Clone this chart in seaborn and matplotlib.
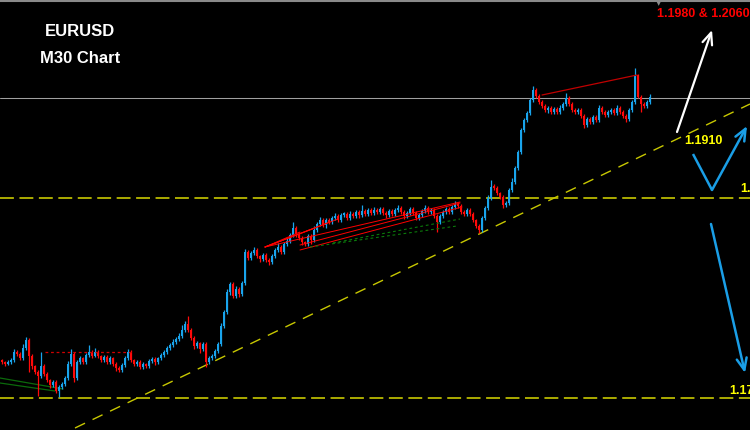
import numpy as np
import pandas as pd
import matplotlib
matplotlib.use("Agg")
import matplotlib.pyplot as plt
import seaborn as sns

# EURUSD M30 candles, prices counted in pips above BASE (open = previous close)
BASE = 1.1700
first_open_pips = 68.5
close_pips = [
    68, 67, 68, 69, 73, 72, 70, 75, 79, 71,
    66, 63, 61, 66, 62, 59, 56.5, 58, 53.5, 55.5,
    57, 60, 67, 72, 60, 68, 70, 68, 71.5, 73,
    71, 73, 71, 69, 70.5, 68, 70, 67, 65, 64,
    66.5, 70, 73, 69, 67, 68, 65.5, 67, 66, 68.5,
    69.5, 68, 70, 71.5, 73, 75, 76.5, 78, 79.5, 81,
    84, 87, 84, 80, 76, 77.5, 74.5, 77, 68, 70,
    71, 73.5, 77, 86, 93, 103, 107, 101, 104.5, 102,
    107.5, 123, 120, 122.5, 124, 121, 119.5, 121.5, 119, 118,
    121, 124, 125.5, 123, 127, 128.5, 131.5, 135, 132, 130,
    128, 127, 131, 129, 134, 137, 139, 136.5, 139, 138,
    140, 141, 139, 141.5, 142, 140, 142, 141, 143, 141.5,
    143.5, 142, 144, 142.5, 144, 143, 144.5, 142.5, 141.5, 143.5,
    142, 144, 145, 143, 141, 142.5, 144.5, 142.5, 140, 141.5,
    143.5, 145, 143, 144, 141, 138, 141, 143, 144.5, 143,
    145.5, 147, 146, 143, 142, 144, 142, 139, 136, 134,
    140, 145, 150, 155.5, 155, 152.5, 150.5, 146.5, 147.5, 154,
    158, 165, 173, 184, 189, 192.5, 199, 204, 201, 198,
    196, 194, 195, 193, 194.5, 193, 195, 197, 200, 197,
    194, 193, 194, 191, 186.5, 189.5, 188, 190.5, 189, 195,
    193, 191.5, 193, 194, 192.5, 195, 193, 191, 189.5, 194,
    198, 211.5, 200.5, 197, 196, 198, 200.5,
]
wick_up = [
    1, 0.5, 1, 1, 1.5, 1, 1, 2, 1.5, 1,
    1, 0.5, 1, 7, 1, 1, 0.5, 1, 1, 1,
    1, 1, 1.5, 2.5, 1, 1, 1, 0.5, 1, 3.5,
    1, 2, 1, 0.5, 1, 1, 1, 0.5, 1, 1,
    1, 1, 1.5, 1, 0.5, 1, 1, 1, 0.5, 1,
    1, 1, 0.5, 1, 1, 1, 1, 1.5, 1, 1.5,
    2.5, 1.5, 4, 1, 1, 1, 0.5, 1, 1, 1,
    1, 1, 1, 1.5, 1, 1.5, 1, 1, 1.5, 1,
    1, 1.5, 1, 1, 1.5, 1, 0.5, 1, 1, 1,
    1, 1, 2, 1, 1, 1.5, 1, 3, 1, 1,
    1, 0.5, 1, 1, 2, 1, 1.5, 1, 1, 1,
    1, 1.5, 1, 1, 1, 1, 1.5, 1, 1, 1,
    3, 1, 1, 1, 1.5, 1, 1, 1, 1, 1,
    1, 1, 1.5, 1, 1, 1, 1, 1, 1, 1,
    1, 1.5, 1, 1, 1, 1, 1, 1, 1, 1,
    1, 1.5, 1, 1, 1, 1, 1, 1, 0.5, 1,
    1, 1, 1.5, 3.5, 1.5, 1, 0.5, 1, 1, 1,
    2, 1, 1, 1, 1, 1, 1, 2, 1, 1,
    1, 1, 1, 1, 1, 1, 1.5, 1, 2.5, 1,
    1, 1, 1, 1, 1, 1, 1, 1, 1, 1.5,
    1, 1, 1, 1, 1, 1.5, 1, 1, 1, 1,
    1, 3.5, 0.5, 1, 1, 1, 1.5,
]
wick_dn = [
    1, 1, 0.5, 1, 1, 1, 1, 1, 1, 8,
    1.5, 1, 10, 1, 1, 1, 1.5, 1, 1, 3,
    1, 1, 1, 1, 2, 1, 1, 1, 1, 1,
    1, 0.5, 1, 1, 1, 1, 1, 1, 1.5, 1,
    1, 1, 1, 1, 1, 1, 1, 1, 1, 1,
    1, 1.5, 1, 1, 1, 1, 1, 1, 1, 1,
    1, 1, 1, 1, 1.5, 1, 2, 1, 2.5, 1,
    1, 1, 1, 1, 1, 1, 1.5, 1, 1, 1.5,
    1, 1, 1, 1, 1, 1, 1.5, 1, 1, 1.5,
    1, 1, 1, 1, 1, 1, 1, 1, 1.5, 1,
    1.5, 1, 1, 2, 1, 1, 1, 1, 1.5, 1,
    1, 1, 1, 1, 1, 1, 1, 1, 1, 1.5,
    1, 1, 1, 1, 1, 1, 1, 1, 1.5, 1,
    1, 1, 1, 1, 1.5, 1, 1, 1, 1, 1,
    1, 1, 1, 1, 1, 5, 1, 1, 1, 1,
    1, 1, 1, 1, 1, 1, 1, 1, 1, 1.5,
    1, 1, 1, 1, 1, 1, 1, 1.5, 1, 1,
    1, 1, 1, 1, 1, 1, 1, 1, 1, 1,
    1, 1, 1.5, 1, 1, 1, 1, 1, 1, 1,
    1, 1, 1, 1, 1.5, 1, 1, 1, 1, 1,
    1, 1, 1, 1, 1, 1, 1, 1, 1.5, 1,
    1, 1, 0.5, 4, 1, 1, 1,
]

# drawn objects, in (candle index, price)
levels_yellow = [1.1850, 1.1750]
level_grey = 1.1900
trend_x = [24.33, 249.33]
trend_y = [1.1735, 1.1897]
red_dot_x = [14.3, 43.3]
red_dot_y = [1.17728, 1.17728]
fan_lines = [
    ([87.67, 152.67], [1.18255, 1.1848]),
    ([87.67, 104.33], [1.18255, 1.1835]),
    ([87.67, 109.33], [1.18255, 1.1838]),
    ([87.67, 112.0], [1.18255, 1.18395]),
    ([87.67, 99.33], [1.18255, 1.1833]),
    ([99.33, 152.67], [1.18265, 1.18475]),
    ([99.33, 153.33], [1.1824, 1.18455]),
]
green_dotted = [
    ([110.33, 152.67], [1.18275, 1.18395]),
    ([102.67, 151.67], [1.18255, 1.1836]),
]
green_solid = [
    ([-0.67, 20.33], [1.1760, 1.17545]),
    ([-0.67, 17.67], [1.17575, 1.17535]),
]
red_top_x = [180, 211.67]
red_top_y = [1.19015, 1.19115]
white_arrow = [(225, 1.1883), (236.67, 1.1934)]
blue_v = [(230.33, 1.1872), (236.67, 1.1854), (248.33, 1.1886)]
blue_down = [(236.33, 1.1837), (247.67, 1.17625)]

CYAN = '#19a4ec'
RED = '#ff0a0a'
YELLOW = '#c8c800'
BLUE = '#1a9ee6'

sns.set_theme(style="dark", rc={"axes.facecolor": "black", "figure.facecolor": "black",
                                "axes.grid": False, "lines.scale_dashes": False})
plt.rcParams['font.family'] = ['Liberation Sans', 'DejaVu Sans']

close = BASE + np.array(close_pips) / 1e4
open_ = np.concatenate([[BASE + first_open_pips / 1e4], close[:-1]])
df = pd.DataFrame({'close': close, 'open': open_})
df['high'] = df[['open', 'close']].max(axis=1) + np.array(wick_up) / 1e4
df['low'] = df[['open', 'close']].min(axis=1) - np.array(wick_dn) / 1e4
df['idx'] = np.arange(len(df))
up = df['close'] >= df['open']
colors = np.where(up, CYAN, RED)

fig = plt.figure(figsize=(7.5, 4.3), dpi=100)
ax = fig.add_axes([0, 0, 1, 1])
ax.set_xlim(-0.67, 249.33)
ax.set_ylim(1.1734, 1.1949)
ax.axis('off')

# horizontal levels
ax.axhline(level_grey, color='#a0a0a0', lw=0.75, zorder=1)
for lv in levels_yellow:
    ax.axhline(lv, color=YELLOW, lw=1.2, dashes=(10, 4), zorder=1)
ax.plot(trend_x, trend_y, color=YELLOW, lw=1.0, dashes=(8, 6), zorder=1)

# candles
ax.vlines(df['idx'], df['low'], df['high'], colors=colors, lw=0.9, zorder=2)
body = np.maximum((df['close'] - df['open']).abs(), 0.00008)
ax.bar(df['idx'], body, bottom=df[['open', 'close']].min(axis=1), width=0.92,
       color=colors, linewidth=0, zorder=3)

# drawn lines
ax.plot(red_dot_x, red_dot_y, color='#d00000', lw=0.9, dashes=(2, 2), zorder=4)
for xs, ys in fan_lines:
    ax.plot(xs, ys, color='#ff0000', lw=0.7, zorder=4)
for xs, ys in green_dotted:
    ax.plot(xs, ys, color='#0b7a0b', lw=0.8, dashes=(2, 2), zorder=4)
for xs, ys in green_solid:
    ax.plot(xs, ys, color='#0b6a0b', lw=0.9, zorder=1)
ax.plot(red_top_x, red_top_y, color='#c00000', lw=0.9, zorder=4)

# arrows
arrow_style = "->,head_length=0.7,head_width=0.3"
ax.annotate("", xy=white_arrow[1], xytext=white_arrow[0],
            arrowprops=dict(arrowstyle=arrow_style, color='white', lw=1.6,
                            shrinkA=0, shrinkB=0))
ax.plot([blue_v[0][0], blue_v[1][0]], [blue_v[0][1], blue_v[1][1]],
        color=BLUE, lw=1.8, solid_capstyle='butt')
ax.annotate("", xy=blue_v[2], xytext=blue_v[1],
            arrowprops=dict(arrowstyle=arrow_style, color=BLUE, lw=1.8,
                            shrinkA=0, shrinkB=0))
ax.annotate("", xy=blue_down[1], xytext=blue_down[0],
            arrowprops=dict(arrowstyle=arrow_style, color=BLUE, lw=1.8,
                            shrinkA=0, shrinkB=0))

# top border and marker
fig.add_artist(plt.Line2D([0, 1], [0.998, 0.998], color='#8a8a8a', lw=1.5))
fig.text(0.8787, 0.992, '▼', color='#8a8a8a', fontsize=5, ha='center', va='center',
         family=['DejaVu Sans'])

# text (the two right-hand level labels run off the edge, as in the source)
fig.text(0.1067, 0.926, 'EURUSD', color='white', fontsize=12, fontweight='bold',
         ha='center', va='center')
fig.text(0.1067, 0.865, 'M30 Chart', color='white', fontsize=12, fontweight='bold',
         ha='center', va='center')
fig.text(0.876, 0.967, '1.1980 & 1.2060', color='#ff0000', fontsize=9,
         fontweight='bold', ha='left', va='center')
fig.text(0.912, 0.673, '1.1910', color='#ffff00', fontsize=9, fontweight='bold',
         ha='left', va='center')
fig.text(0.9867, 0.560, '1.1850', color='#ffff00', fontsize=9, fontweight='bold',
         ha='left', va='center')
fig.text(0.972, 0.091, '1.1750', color='#ffff00', fontsize=9, fontweight='bold',
         ha='left', va='center')

fig.savefig('out.png', dpi=100, facecolor='black')
